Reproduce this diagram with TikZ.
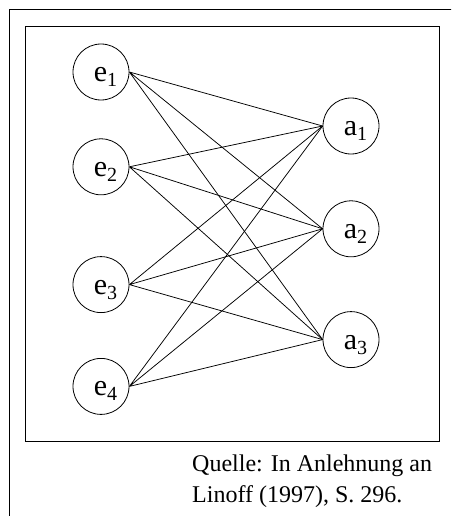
\documentclass[tikz,border=0pt]{standalone}
\usepackage{fontspec}
\setmainfont{Liberation Serif}
\usetikzlibrary{positioning}
\newcommand{\lbl}[2]{\hspace*{9pt}#1\raisebox{-5pt}{\fontsize{20}{20}\selectfont #2}}

\begin{document}
\begin{tikzpicture}[
  x=1pt, y=-1pt,
  node distance=40pt,
  ent/.style={draw, circle, minimum size=56pt, inner sep=0pt,
              text height=21pt, text depth=2pt,
              line width=0.8pt, font=\fontsize{30}{30}\selectfont},
  att/.style={ent},
  lnk/.style={line width=0.75pt},
  frm/.style={line width=1pt}
]
\useasboundingbox (0,0) rectangle (451,516);

% --- Frames ---
\begin{scope}
  \clip (0,0) rectangle (451,516);
  \draw[frm] (9,10) rectangle (480,540);
\end{scope}
\draw[frm] (25,27) rectangle (439,441);

% --- Left column: e nodes ---
\node[ent] (e1) at (101,72) {\lbl{e}{1}};
\node[ent, below=38pt of e1] (e2) {\lbl{e}{2}};
\node[ent, below=61pt of e2] (e3) {\lbl{e}{3}};
\node[ent, below=45pt of e3] (e4) {\lbl{e}{4}};

% --- Right column: a nodes ---
\node[att] (a1) at (351,126) {\lbl{a}{1}};
\node[att, below=46pt of a1] (a2) {\lbl{a}{2}};
\node[att, below=54pt of a2] (a3) {\lbl{a}{3}};

% --- Links ---
\draw[lnk] (e1.east) -- (a1.west) (e1.east) -- (a2.west) (e1.east) -- (a3.west);
\draw[lnk] (e2.east) -- (a1.west) (e2.east) -- (a2.west) (e2.east) -- (a3.west);
\draw[lnk] (e3.east) -- (a1.west) (e3.east) -- (a2.west) (e3.east) -- (a3.west);
\draw[lnk] (e4.east) -- (a1.west) (e4.east) -- (a2.west) (e4.east) -- (a3.west);

% --- Source ---
\node[anchor=north west, inner sep=0pt, align=left,
      font=\fontsize{24}{31}\selectfont] (src) at (192,455)
  {Quelle: In Anlehnung an\\Linoff (1997), S. 296.};
\end{tikzpicture}
\end{document}
